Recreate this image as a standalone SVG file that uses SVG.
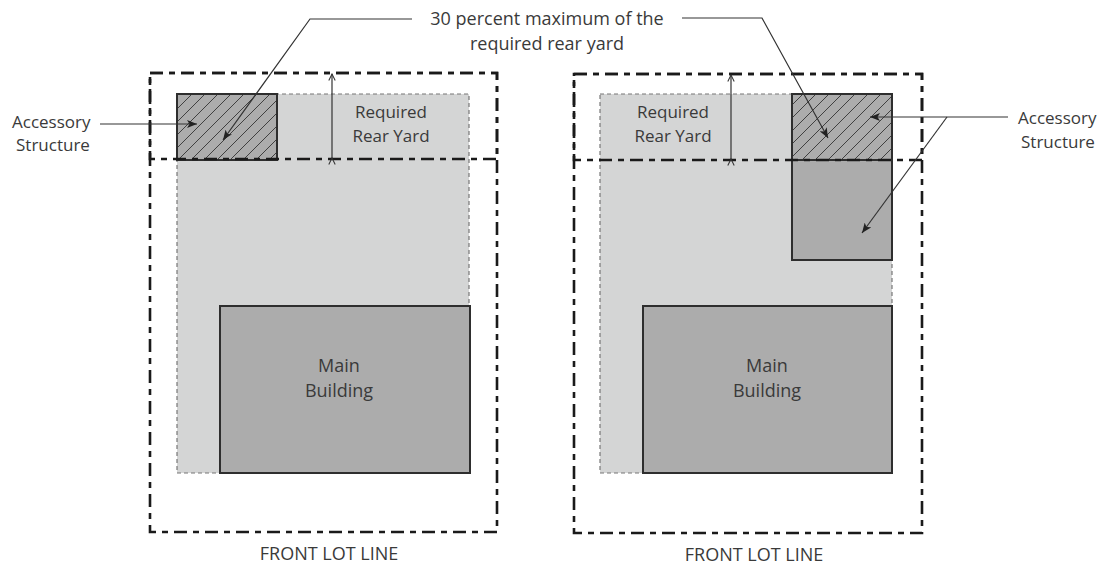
<svg xmlns="http://www.w3.org/2000/svg" width="1106" height="566" viewBox="0 0 1106 566">
  <style>
    .lbl { font-family: "Open Sans", "Liberation Sans", sans-serif; font-size: 18px; fill: #3a3a3a; }
    .tight { font-size: 17px; }
    .lot { fill: none; stroke: #1a1a1a; stroke-width: 2.6; stroke-dasharray: 13 6 6 6; }
    .band { fill: none; stroke: #1a1a1a; stroke-width: 2.6; stroke-dasharray: 13 6 6 6; }
    .buildable { fill: #d4d5d5; stroke: #777; stroke-width: 1.2; stroke-dasharray: 4 3; }
    .solid { fill: #acacac; stroke: #2e2e2e; stroke-width: 2; }
    .hatch { fill: url(#hatch); stroke: #2e2e2e; stroke-width: 2; }
    .leader { fill: none; stroke: #333; stroke-width: 1.2; }
    .dim { fill: none; stroke: #333; stroke-width: 1.2; }
  </style>
  <defs>
    <pattern id="hatch" patternUnits="userSpaceOnUse" width="13" height="13">
      <rect width="13" height="13" fill="#acacac"/>
      <path d="M0,13 L13,0 M-3,3 L3,-3 M10,16 L16,10" stroke="#333" stroke-width="0.9"/>
    </pattern>
    <marker id="tip" viewBox="0 0 10 8" refX="10" refY="4" markerWidth="10" markerHeight="8" markerUnits="userSpaceOnUse" orient="auto">
      <path d="M0,0 L10,4 L0,8 L2.5,4 Z" fill="#222"/>
    </marker>
    <marker id="open" viewBox="0 0 10 10" refX="9" refY="5" markerWidth="8" markerHeight="8" markerUnits="userSpaceOnUse" orient="auto">
      <path d="M1,1 L9,5 L1,9" fill="none" stroke="#333" stroke-width="1.3"/>
    </marker>
  </defs>

  <!-- left lot -->
  <g id="left-lot">
    <rect class="buildable" x="177" y="94" width="292" height="379"/>
    <rect class="solid" x="220" y="306" width="250" height="167"/>
    <rect class="hatch" x="177" y="94" width="100" height="66"/>
    <rect class="lot" x="150" y="73" width="347" height="459"/>
    <rect class="band" x="150" y="73" width="347" height="86"/>
    <text class="lbl tight" text-anchor="middle" x="391" y="118">Required<tspan x="391" dy="23.5">Rear Yard</tspan></text>
    <text class="lbl" text-anchor="middle" x="339" y="372">Main<tspan x="339" dy="25">Building</tspan></text>
    <text class="lbl" text-anchor="middle" x="329" y="560">FRONT LOT LINE</text>
  </g>

  <!-- right lot -->
  <g id="right-lot">
    <rect class="buildable" x="600" y="94" width="292" height="379"/>
    <rect class="solid" x="643" y="306" width="249" height="167"/>
    <rect class="solid" x="792" y="94" width="100" height="166"/>
    <rect class="hatch" x="792" y="94" width="100" height="66"/>
    <rect class="lot" x="574" y="74" width="348" height="459"/>
    <rect class="band" x="574" y="74" width="348" height="86"/>
    <text class="lbl tight" text-anchor="middle" x="673" y="118">Required<tspan x="673" dy="23.5">Rear Yard</tspan></text>
    <text class="lbl" text-anchor="middle" x="767" y="372">Main<tspan x="767" dy="25">Building</tspan></text>
    <text class="lbl" text-anchor="middle" x="754" y="561">FRONT LOT LINE</text>
  </g>

  <!-- callout labels -->
  <g id="note-rear-yard">
    <text class="lbl" text-anchor="middle" x="547" y="25">30 percent maximum of the<tspan x="547" dy="25">required rear yard</tspan></text>
  </g>
  <g id="note-accessory-left">
    <text class="lbl tight" x="12" y="127.5">Accessory<tspan x="16" dy="23.5">Structure</tspan></text>
  </g>
  <g id="note-accessory-right">
    <text class="lbl tight" x="1018" y="124">Accessory<tspan x="1021" dy="23.5">Structure</tspan></text>
  </g>

  <!-- connectors -->
  <g id="connectors">
    <line class="dim" x1="332" y1="158" x2="332" y2="74" marker-start="url(#open)" marker-end="url(#open)"/>
    <line class="dim" x1="731" y1="159" x2="731" y2="75" marker-start="url(#open)" marker-end="url(#open)"/>
    <polyline class="leader" points="412,19 310,19 223,140" marker-end="url(#tip)"/>
    <polyline class="leader" points="682,18 762,18 828,138" marker-end="url(#tip)"/>
    <line class="leader" x1="100" y1="124" x2="197" y2="124" marker-end="url(#tip)"/>
    <line class="leader" x1="1008" y1="117" x2="870" y2="117" marker-end="url(#tip)"/>
    <line class="leader" x1="947" y1="117" x2="862" y2="233" marker-end="url(#tip)"/>
  </g>
</svg>
